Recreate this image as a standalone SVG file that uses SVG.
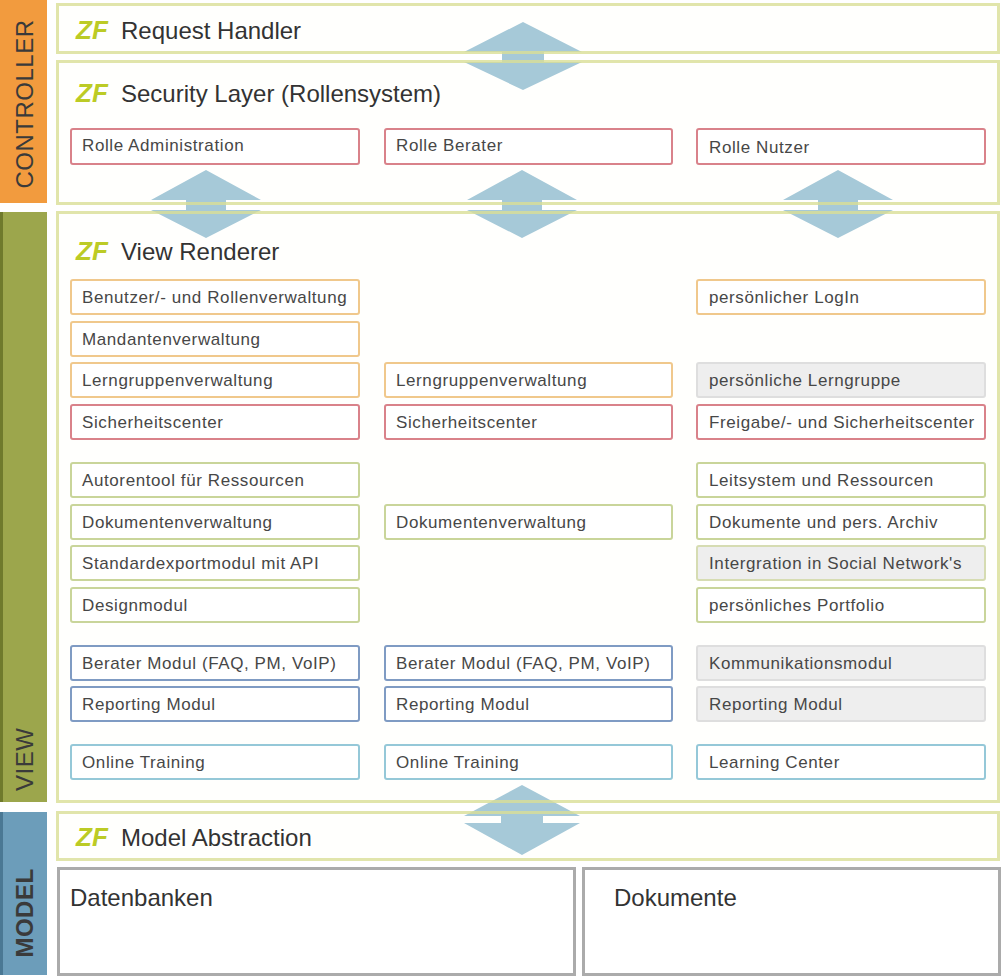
<svg xmlns="http://www.w3.org/2000/svg" width="1001" height="978" viewBox="0 0 1001 978">
<defs>
<style>
text{font-family:"Liberation Sans",Arial,sans-serif}
.side{font-size:24px;letter-spacing:0.5px;fill:#3a3a3a}
.panelfill{fill:#fffffd;stroke:none}
.panelstroke{fill:none;stroke:#d9df96;stroke-width:3;stroke-opacity:0.8}
.zf{font-size:26px;font-weight:bold;font-style:italic;fill:#bccb25}
.title{font-size:24px;fill:#333}
.big{font-size:24px;fill:#333}
.box{stroke-width:2;fill:#fff}
.lbl{font-size:17px;letter-spacing:0.6px;fill:#474747}
.or{stroke:#f0c88c}
.rd{stroke:#d9828a}
.gr{stroke:#c9d59a}
.bl{stroke:#7f9bc3}
.cy{stroke:#95c8d8}
.gy{fill:#eeeeee;stroke:#dedede}
.gyg{fill:#eeeeee;stroke:#d6dcb2}
.arrow{fill:#a6c9d8}
.store{fill:#fff;stroke:#ababab;stroke-width:3}
</style>
</defs>

<g id="sidebars">
<g id="controller-bar">
<rect x="0" y="0" width="47" height="203" fill="#f29b3e"/>
<text class="side" transform="translate(33,104) rotate(-90)" text-anchor="middle">CONTROLLER</text>
</g>
<g id="view-bar">
<rect x="0" y="212" width="47" height="590" fill="#9ca64c"/>
<rect x="0" y="212" width="3" height="590" fill="#6f7a2c"/>
<text class="side" transform="translate(33,791) rotate(-90)" text-anchor="start">VIEW</text>
</g>
<g id="model-bar">
<rect x="0" y="812" width="47" height="163" fill="#6c9dba"/>
<rect x="0" y="812" width="3" height="163" fill="#4a7894"/>
<text class="side" transform="translate(33,913) rotate(-90)" text-anchor="middle" font-weight="bold">MODEL</text>
</g>
</g>

<g id="panel-fills">
<rect class="panelfill" x="57.5" y="4.5" width="941" height="48"/>
<rect class="panelfill" x="57.5" y="61.5" width="941" height="142"/>
<rect class="panelfill" x="57.5" y="212.5" width="941" height="589"/>
<rect class="panelfill" x="57.5" y="812.5" width="941" height="47"/>
</g>

<g id="connectors">
<path class="arrow" d="M523,22 L582,52 L544,52 L544,62 L582,62 L523,90 L464,62 L502,62 L502,52 L464,52 Z"/>
<path class="arrow" d="M206,170 L261,200 L226,200 L226,210 L261,210 L206,238 L151,210 L186,210 L186,200 L151,200 Z"/>
<path class="arrow" d="M522,170 L577,200 L542,200 L542,210 L577,210 L522,238 L467,210 L502,210 L502,200 L467,200 Z"/>
<path class="arrow" d="M838,170 L893,200 L858,200 L858,210 L893,210 L838,238 L783,210 L818,210 L818,200 L783,200 Z"/>
<path class="arrow" d="M522,785 L580,816 L543,816 L543,823 L580,823 L522,855 L464,823 L501,823 L501,816 L464,816 Z"/>
</g>

<g id="panel-strokes">
<rect class="panelstroke" x="57.5" y="4.5" width="941" height="48"/>
<rect class="panelstroke" x="57.5" y="61.5" width="941" height="142"/>
<rect class="panelstroke" x="57.5" y="212.5" width="941" height="589"/>
<rect class="panelstroke" x="57.5" y="812.5" width="941" height="47"/>
</g>

<g id="request-handler">
<text x="76" y="39" class="zf">ZF</text>
<text x="121" y="39" class="title">Request Handler</text>
</g>

<g id="security-layer">
<text x="76" y="102" class="zf">ZF</text>
<text x="121" y="102" class="title">Security Layer (Rollensystem)</text>
</g>
<g id="rolle-administration"><rect class="box rd" x="71" y="129" width="288" height="35" rx="2"/><text class="lbl" x="82" y="151">Rolle Administration</text></g>
<g id="rolle-berater"><rect class="box rd" x="385" y="129" width="287" height="35" rx="2"/><text class="lbl" x="396" y="151">Rolle Berater</text></g>
<g id="rolle-nutzer"><rect class="box rd" x="697" y="129" width="288" height="35" rx="2"/><text class="lbl" x="709" y="153">Rolle Nutzer</text></g>

<g id="view-renderer">
<text x="76" y="260" class="zf">ZF</text>
<text x="121" y="260" class="title">View Renderer</text>
</g>

<g id="benutzer-rollen"><rect class="box or" x="71" y="280" width="288" height="34" rx="2"/><text class="lbl" x="82" y="303">Benutzer/- und Rollenverwaltung</text></g>
<g id="persoenlicher-login"><rect class="box or" x="697" y="280" width="288" height="34" rx="2"/><text class="lbl" x="709" y="303">persönlicher LogIn</text></g>
<g id="mandanten"><rect class="box or" x="71" y="322" width="288" height="34" rx="2"/><text class="lbl" x="82" y="345">Mandantenverwaltung</text></g>
<g id="lerngruppen-1"><rect class="box or" x="71" y="363" width="288" height="34" rx="2"/><text class="lbl" x="82" y="386">Lerngruppenverwaltung</text></g>
<g id="lerngruppen-2"><rect class="box or" x="385" y="363" width="287" height="34" rx="2"/><text class="lbl" x="396" y="386">Lerngruppenverwaltung</text></g>
<g id="persoenliche-lerngruppe"><rect class="box gy" x="697" y="363" width="288" height="34" rx="2"/><text class="lbl" x="709" y="386">persönliche Lerngruppe</text></g>
<g id="sicherheit-1"><rect class="box rd" x="71" y="405" width="288" height="34" rx="2"/><text class="lbl" x="82" y="428">Sicherheitscenter</text></g>
<g id="sicherheit-2"><rect class="box rd" x="385" y="405" width="287" height="34" rx="2"/><text class="lbl" x="396" y="428">Sicherheitscenter</text></g>
<g id="freigabe"><rect class="box rd" x="697" y="405" width="288" height="34" rx="2"/><text class="lbl" x="709" y="428">Freigabe/- und Sicherheitscenter</text></g>

<g id="autorentool"><rect class="box gr" x="71" y="463" width="288" height="34" rx="2"/><text class="lbl" x="82" y="486">Autorentool für Ressourcen</text></g>
<g id="leitsystem"><rect class="box gr" x="697" y="463" width="288" height="34" rx="2"/><text class="lbl" x="709" y="486">Leitsystem und Ressourcen</text></g>
<g id="dokumente-1"><rect class="box gr" x="71" y="505" width="288" height="34" rx="2"/><text class="lbl" x="82" y="528">Dokumentenverwaltung</text></g>
<g id="dokumente-2"><rect class="box gr" x="385" y="505" width="287" height="34" rx="2"/><text class="lbl" x="396" y="528">Dokumentenverwaltung</text></g>
<g id="dokumente-archiv"><rect class="box gr" x="697" y="505" width="288" height="34" rx="2"/><text class="lbl" x="709" y="528">Dokumente und pers. Archiv</text></g>
<g id="standardexport"><rect class="box gr" x="71" y="546" width="288" height="34" rx="2"/><text class="lbl" x="82" y="569">Standardexportmodul mit API</text></g>
<g id="social"><rect class="box gyg" x="697" y="546" width="288" height="34" rx="2"/><text class="lbl" x="709" y="569">Intergration in Social Network's</text></g>
<g id="designmodul"><rect class="box gr" x="71" y="588" width="288" height="34" rx="2"/><text class="lbl" x="82" y="611">Designmodul</text></g>
<g id="portfolio"><rect class="box gr" x="697" y="588" width="288" height="34" rx="2"/><text class="lbl" x="709" y="611">persönliches Portfolio</text></g>

<g id="berater-1"><rect class="box bl" x="71" y="646" width="288" height="34" rx="2"/><text class="lbl" x="82" y="669">Berater Modul (FAQ, PM, VoIP)</text></g>
<g id="berater-2"><rect class="box bl" x="385" y="646" width="287" height="34" rx="2"/><text class="lbl" x="396" y="669">Berater Modul (FAQ, PM, VoIP)</text></g>
<g id="kommunikation"><rect class="box gy" x="697" y="646" width="288" height="34" rx="2"/><text class="lbl" x="709" y="669">Kommunikationsmodul</text></g>
<g id="reporting-1"><rect class="box bl" x="71" y="687" width="288" height="34" rx="2"/><text class="lbl" x="82" y="710">Reporting Modul</text></g>
<g id="reporting-2"><rect class="box bl" x="385" y="687" width="287" height="34" rx="2"/><text class="lbl" x="396" y="710">Reporting Modul</text></g>
<g id="reporting-3"><rect class="box gy" x="697" y="687" width="288" height="34" rx="2"/><text class="lbl" x="709" y="710">Reporting Modul</text></g>

<g id="online-1"><rect class="box cy" x="71" y="745" width="288" height="34" rx="2"/><text class="lbl" x="82" y="768">Online Training</text></g>
<g id="online-2"><rect class="box cy" x="385" y="745" width="287" height="34" rx="2"/><text class="lbl" x="396" y="768">Online Training</text></g>
<g id="learning-center"><rect class="box cy" x="697" y="745" width="288" height="34" rx="2"/><text class="lbl" x="709" y="768">Learning Center</text></g>

<g id="model-abstraction">
<text x="76" y="846" class="zf">ZF</text>
<text x="121" y="846" class="title">Model Abstraction</text>
</g>

<g id="datenbanken">
<rect class="store" x="58.5" y="868.5" width="516" height="106"/>
<text class="big" x="70" y="906">Datenbanken</text>
</g>
<g id="dokumente">
<rect class="store" x="583.5" y="868.5" width="416" height="106"/>
<text class="big" x="614" y="906">Dokumente</text>
</g>
</svg>
